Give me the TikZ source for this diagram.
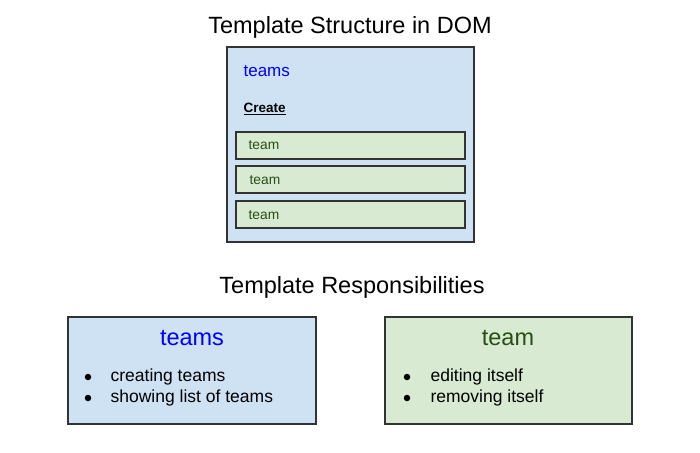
\documentclass[tikz,border=0pt]{standalone}
\usepackage{fontspec}
\setmainfont{Liberation Sans}
\usepackage{xcolor}
\usepackage{tikz}
\definecolor{paleblue}{RGB}{207,226,243}
\definecolor{palegreen}{RGB}{217,234,211}
\definecolor{darkgreen}{RGB}{39,78,19}
\definecolor{edgegray}{RGB}{51,51,51}
\definecolor{titleblue}{RGB}{0,0,255}

\begin{document}
\begin{tikzpicture}[x=1pt,y=-1pt,line width=1.2pt]
\useasboundingbox (0,0) rectangle (700,452);
% structure in the DOM
\node (title1) at (350,27) {\fontsize{23.5}{28}\selectfont Template Structure in DOM};
\draw[draw=edgegray,fill=paleblue] (227,47) rectangle (474,242);
\node[anchor=west,inner sep=0] (teamsdom) at (243,71) {\fontsize{17}{20}\selectfont\color{titleblue}teams};
\node[anchor=west,inner sep=0] (create) at (243,109) {\fontsize{13.5}{16}\selectfont\bfseries\underline{Create}};
\draw[draw=edgegray,fill=palegreen] (236,132) rectangle (465,159);
\draw[draw=edgegray,fill=palegreen] (236,166) rectangle (465,193);
\draw[draw=edgegray,fill=palegreen] (236,201) rectangle (465,228);
\node[anchor=west,inner sep=0] (team1) at (248,145.5) {\fontsize{13.8}{16}\selectfont\color{darkgreen}team};
\node[anchor=west,inner sep=0] (team2) at (249,180.5) {\fontsize{13.8}{16}\selectfont\color{darkgreen}team};
\node[anchor=west,inner sep=0] (team3) at (248,215) {\fontsize{13.8}{16}\selectfont\color{darkgreen}team};
% responsibilities
\node (title2) at (352,287) {\fontsize{23.5}{28}\selectfont Template Responsibilities};
\draw[draw=edgegray,fill=paleblue] (68,317) rectangle (316,424);
\draw[draw=edgegray,fill=palegreen] (385,317) rectangle (632,424);
\node (teamshead) at (192,338) {\fontsize{23.5}{28}\selectfont\color{titleblue}teams};
\node (teamhead) at (508,338) {\fontsize{23.5}{28}\selectfont\color{darkgreen}team};
\node[circle,fill=black,inner sep=0,minimum size=6.5pt] (b1) at (88,377) {};
\node[circle,fill=black,inner sep=0,minimum size=6.5pt] (b2) at (88,398) {};
\node[circle,fill=black,inner sep=0,minimum size=6.5pt] (b3) at (407,377) {};
\node[circle,fill=black,inner sep=0,minimum size=6.5pt] (b4) at (407,398) {};
\node[anchor=west,inner sep=0] (l1) at (110,377) {\fontsize{17.5}{21}\selectfont creating teams};
\node[anchor=west,inner sep=0] (l2) at (110,398) {\fontsize{17.5}{21}\selectfont showing list of teams};
\node[anchor=west,inner sep=0] (l3) at (430,377) {\fontsize{17.5}{21}\selectfont editing itself};
\node[anchor=west,inner sep=0] (l4) at (430,398) {\fontsize{17.5}{21}\selectfont removing itself};
\end{tikzpicture}
\end{document}
